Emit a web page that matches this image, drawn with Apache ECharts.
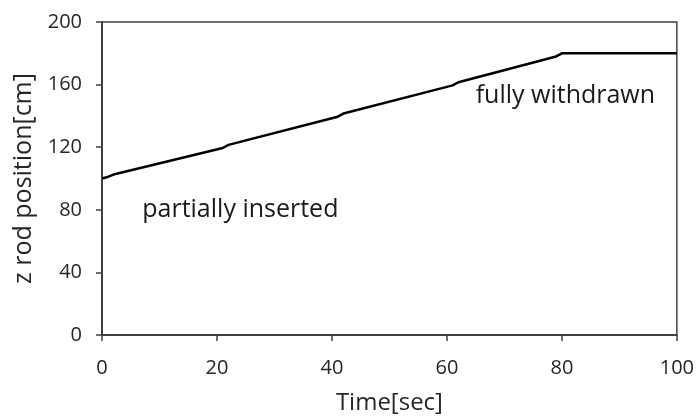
<!DOCTYPE html>
<html>
<head>
<meta charset="utf-8">
<script src="https://cdn.jsdelivr.net/npm/echarts@6/dist/echarts.min.js"></script>
<style>html,body{margin:0;padding:0;background:#fff;}#c{width:697px;height:420px;}</style>
</head>
<body>
<div id="c"></div>
<script>
var timeSec = [0, 1, 2, 21, 22, 41, 42, 61, 62, 79, 80, 100];
var rodPos  = [100, 101, 102.5, 119.5, 121.5, 139.5, 141.5, 159.5, 161.5, 178, 180, 180];
var xTicks = [0, 20, 40, 60, 80, 100];
var yTicks = [0, 40, 80, 120, 160, 200];
var noteTexts = ['partially inserted', 'fully withdrawn'];
var noteX = [7, 65];
var noteY = [80, 153];

var FONT = '"Open Sans", "DejaVu Sans", sans-serif';
var chart = echarts.init(document.getElementById('c'));
var lineData = timeSec.map(function (t, i) { return [t, rodPos[i]]; });
var noteData = noteTexts.map(function (s, i) { return { value: [noteX[i], noteY[i]], name: s }; });

chart.setOption({
  animation: false,
  grid: { left: 102, right: 20, top: 22, bottom: 82, show: true, borderColor: '#404040', borderWidth: 1.5, backgroundColor: 'transparent' },
  xAxis: {
    type: 'value', min: xTicks[0], max: xTicks[xTicks.length - 1], interval: 20,
    name: 'Time[sec]', nameLocation: 'middle', nameGap: 56,
    nameTextStyle: { fontFamily: FONT, fontSize: 24, color: '#262626' },
    axisLine: { lineStyle: { color: '#404040', width: 2 } },
    axisTick: { show: true, length: 6, lineStyle: { color: '#404040', width: 1.5 } },
    axisLabel: { fontFamily: FONT, fontSize: 20, color: '#262626', margin: 23 },
    splitLine: { show: false }
  },
  yAxis: {
    type: 'value', min: yTicks[0], max: yTicks[yTicks.length - 1], interval: 40,
    name: 'z rod position[cm]', nameLocation: 'middle', nameGap: 65,
    nameTextStyle: { fontFamily: FONT, fontSize: 25, color: '#262626' },
    axisLine: { show: true, lineStyle: { color: '#404040', width: 2 } },
    axisTick: { show: true, length: 6, lineStyle: { color: '#404040', width: 1.5 } },
    axisLabel: { fontFamily: FONT, fontSize: 20, color: '#262626', margin: 20 },
    splitLine: { show: false }
  },
  series: [
    {
      type: 'line', data: lineData, symbol: 'none',
      lineStyle: { color: '#000', width: 2.5 }
    },
    {
      type: 'scatter', data: noteData, symbolSize: 0, silent: true,
      itemStyle: { opacity: 1 },
      label: {
        show: true, position: 'right', distance: 0, opacity: 1,
        formatter: function (p) { return p.name; },
        fontFamily: FONT, fontSize: 25, color: '#1a1a1a'
      }
    }
  ]
});
</script>
</body>
</html>
